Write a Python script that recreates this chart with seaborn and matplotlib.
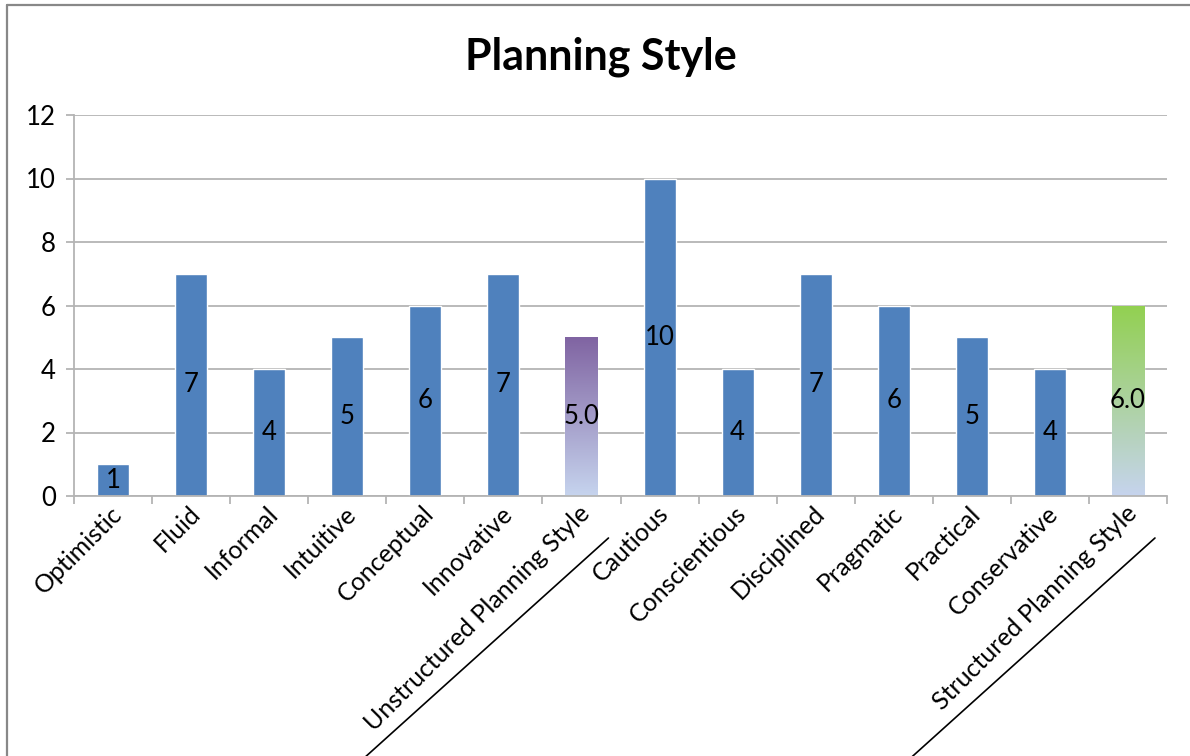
import numpy as np
import matplotlib
matplotlib.use("Agg")
import matplotlib.pyplot as plt
import matplotlib.colors as mcolors
from matplotlib.lines import Line2D
from matplotlib.transforms import ScaledTranslation
import seaborn as sns
import pandas as pd

# ---------------- data ----------------
categories = ["Optimistic", "Fluid", "Informal", "Intuitive", "Conceptual", "Innovative",
              "Unstructured Planning Style", "Cautious", "Conscientious", "Disciplined",
              "Pragmatic", "Practical", "Conservative", "Structured Planning Style"]
values = [1, 7, 4, 5, 6, 7, 5.0, 10, 4, 7, 6, 5, 4, 6.0]
value_labels = ["1", "7", "4", "5", "6", "7", "5.0", "10", "4", "7", "6", "5", "4", "6.0"]
summary_categories = ["Unstructured Planning Style", "Structured Planning Style"]
summary_top_colors = ["#8064A2", "#92D050"]
gradient_bottom_color = "#C6D4EE"
bar_color = "#4F81BD"
title = "Planning Style"
y_ticks = [0, 2, 4, 6, 8, 10, 12]

# ---------------- style ----------------
sns.set_theme(style="white")
plt.rcParams['font.family'] = ['Lato', 'DejaVu Sans']

W, H = 1190, 756
fig = plt.figure(figsize=(W / 100, H / 100), dpi=100)
fig.patch.set_facecolor("white")
ax = fig.add_axes([74 / W, 260 / H, (1167 - 74) / W, (496 - 115) / H])

df = pd.DataFrame({"category": categories, "value": values})
sns.barplot(data=df, x="category", y="value", color=bar_color, saturation=1,
            width=0.41, ax=ax, zorder=2)

# gradient fill for the summary bars
bars = ax.containers[0]
for cat, top_col in zip(summary_categories, summary_top_colors):
    i = categories.index(cat)
    patch = bars[i]
    x0, w, h = patch.get_x(), patch.get_width(), patch.get_height()
    c_bot = np.array(mcolors.to_rgba(gradient_bottom_color))
    c_top = np.array(mcolors.to_rgba(top_col))
    t = np.linspace(0, 1, 256)[:, None]
    grad = (c_bot[None, :] * (1 - t) + c_top[None, :] * t)[:, None, :]
    patch.set_facecolor("none")
    im = ax.imshow(grad, extent=[x0, x0 + w, 0, h], origin="lower", aspect="auto",
                   zorder=2.1, interpolation="bilinear")
    im.set_clip_path(patch)

ax.bar_label(bars, labels=value_labels, label_type="center", fontsize=18.5, color="black")

ax.set_xlim(-0.5, len(categories) - 0.5)
ax.set_ylim(0, 12)
ax.set_yticks(y_ticks)
ax.set_xlabel("")
ax.set_ylabel("")

grid_col = "#b4b4b4"
ax.yaxis.grid(True, color=grid_col, lw=1.3)
ax.xaxis.grid(False)
ax.set_axisbelow(True)
for s in ["top", "right"]:
    ax.spines[s].set_visible(False)
for s in ["left", "bottom"]:
    ax.spines[s].set_color(grid_col)
    ax.spines[s].set_linewidth(1.3)

ax.tick_params(axis="y", which="major", left=True, length=6, width=1.3, color=grid_col,
               labelsize=18.5, pad=7, labelcolor="black")
ax.set_xticks(np.arange(len(categories)))
ax.set_xticks(np.arange(len(categories) + 1) - 0.5, minor=True)
ax.tick_params(axis="x", which="major", length=0, labelsize=18, pad=10, labelcolor="black")
ax.tick_params(axis="x", which="minor", bottom=True, length=6, width=1.3, color=grid_col)
ax.set_xticklabels(categories, rotation=45, ha="right", va="center", rotation_mode="anchor")
for lab in ax.get_xticklabels():
    lab.set_transform(lab.get_transform() + ScaledTranslation(5 / 100, 0, fig.dpi_scale_trans))

# title
fig.text(601 / W, 1 - 57 / H, title, ha="center", va="center", fontsize=31,
         fontweight="bold", color="black")

# outer chart frame (cropped at right/bottom)
frame_col = "#888888"
fig.add_artist(Line2D([7 / W, 7 / W], [0, 1 - 5 / H], transform=fig.transFigure,
                      color=frame_col, lw=1.6))
fig.add_artist(Line2D([7 / W, 1], [1 - 5 / H, 1 - 5 / H], transform=fig.transFigure,
                      color=frame_col, lw=1.6))

# underline the summary tick labels
fig.canvas.draw()
inv = fig.transFigure.inverted()
direction = np.array([-241.0, -217.0])
direction /= np.linalg.norm(direction)
for cat in summary_categories:
    i = categories.index(cat)
    base = ax.transData.transform((i, 0))
    p0 = base + np.array([27.0, -42.0])
    p1 = p0 + direction * 420
    pts = inv.transform(np.vstack([p0, p1]))
    fig.add_artist(Line2D(pts[:, 0], pts[:, 1], transform=fig.transFigure,
                          color="black", lw=1.2))

fig.savefig("out.png", dpi=100)
